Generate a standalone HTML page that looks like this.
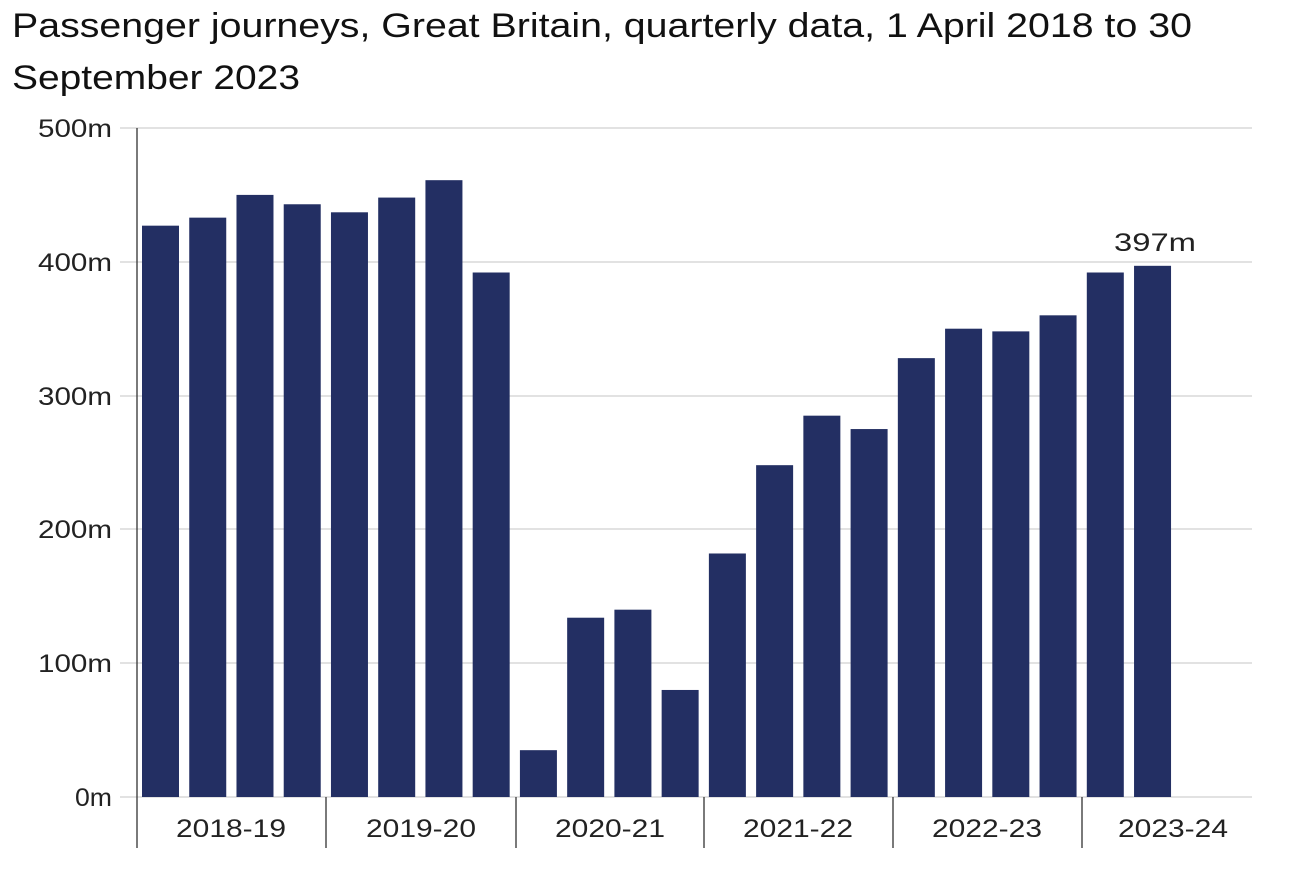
<!DOCTYPE html>
<html><head><style>
body{margin:0;background:#fff;}
svg{display:block;font-family:"Liberation Sans",Arial,sans-serif;}
</style></head><body>
<svg width="1295" height="872" viewBox="0 0 1295 872">
<text x="12" y="37" font-size="34" fill="#111" textLength="1180" lengthAdjust="spacingAndGlyphs">Passenger journeys, Great Britain, quarterly data, 1 April 2018 to 30</text>
<text x="12" y="89" font-size="34" fill="#111" textLength="288" lengthAdjust="spacingAndGlyphs">September 2023</text>
<g stroke="#d9d9d9" stroke-width="1.5">
<line x1="120" x2="1252" y1="128" y2="128"/>
<line x1="120" x2="1252" y1="262" y2="262"/>
<line x1="120" x2="1252" y1="396" y2="396"/>
<line x1="120" x2="1252" y1="529" y2="529"/>
<line x1="120" x2="1252" y1="663" y2="663"/>
<line x1="120" x2="1252" y1="797" y2="797"/>
</g>
<g font-size="25" fill="#222" text-anchor="end">
<text x="112" y="137" textLength="74" lengthAdjust="spacingAndGlyphs">500m</text>
<text x="112" y="271" textLength="74" lengthAdjust="spacingAndGlyphs">400m</text>
<text x="112" y="405" textLength="74" lengthAdjust="spacingAndGlyphs">300m</text>
<text x="112" y="538" textLength="74" lengthAdjust="spacingAndGlyphs">200m</text>
<text x="112" y="672" textLength="74" lengthAdjust="spacingAndGlyphs">100m</text>
<text x="112" y="806" textLength="37" lengthAdjust="spacingAndGlyphs">0m</text>
</g>
<g fill="#232f63" id="bars"></g>
<g stroke="#333" stroke-width="1.3">
<line x1="137" x2="137" y1="128" y2="848"/>
<line x1="326" x2="326" y1="797" y2="848"/>
<line x1="516" x2="516" y1="797" y2="848"/>
<line x1="704" x2="704" y1="797" y2="848"/>
<line x1="893" x2="893" y1="797" y2="848"/>
<line x1="1082" x2="1082" y1="797" y2="848"/>
</g>
<g font-size="25" fill="#222" text-anchor="middle">
<text x="231" y="837" textLength="110" lengthAdjust="spacingAndGlyphs">2018-19</text>
<text x="421" y="837" textLength="110" lengthAdjust="spacingAndGlyphs">2019-20</text>
<text x="610" y="837" textLength="110" lengthAdjust="spacingAndGlyphs">2020-21</text>
<text x="798" y="837" textLength="110" lengthAdjust="spacingAndGlyphs">2021-22</text>
<text x="987" y="837" textLength="110" lengthAdjust="spacingAndGlyphs">2022-23</text>
<text x="1173" y="837" textLength="110" lengthAdjust="spacingAndGlyphs">2023-24</text>
<text x="1155" y="251" textLength="82" lengthAdjust="spacingAndGlyphs">397m</text>
</g>
</svg>
<script>
var v=[427,433,450,443,437,448,461,392,35,134,140,80,182,248,285,275,328,350,348,360,392,397];
var g=document.getElementById('bars');
v.forEach(function(d,i){var r=document.createElementNS('http://www.w3.org/2000/svg','rect');
var x=142+i*47.24,h=d*1.338;r.setAttribute('x',x);r.setAttribute('width',37);
r.setAttribute('y',797-h);r.setAttribute('height',h);g.appendChild(r);});
</script>
</body></html>
